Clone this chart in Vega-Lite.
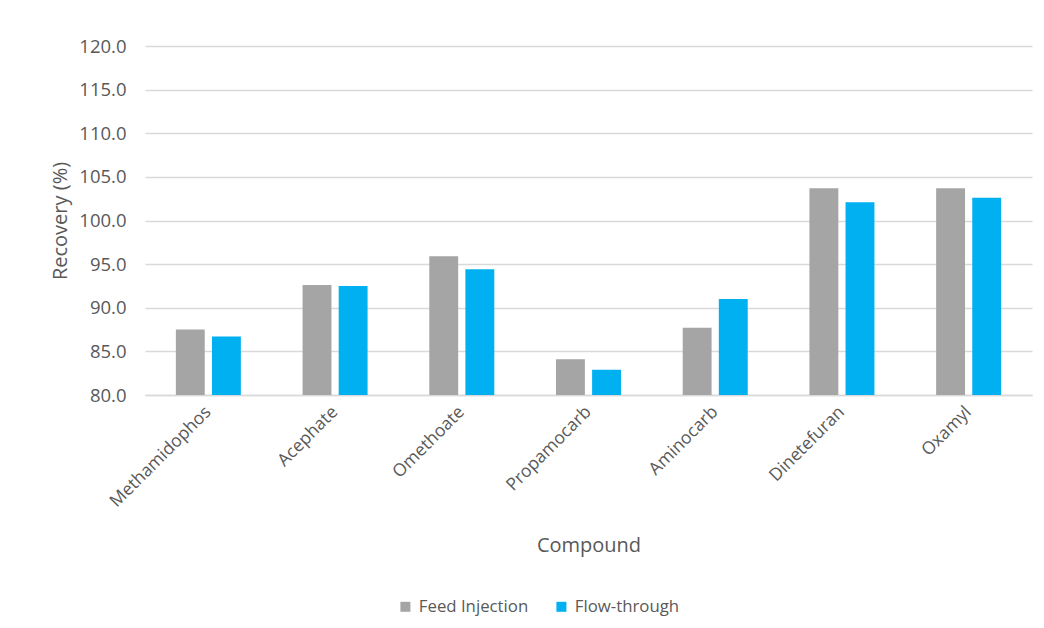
{
  "$schema": "https://vega.github.io/schema/vega-lite/v6.json",
  "width": 887,
  "height": 349,
  "autosize": {"type": "none"},
  "padding": {"left": 145, "top": 46, "right": 12, "bottom": 233},
  "background": "white",
  "data": {
    "values": [
      {"Compound": "Methamidophos", "Method": "Feed Injection", "Recovery": 87.5},
      {"Compound": "Methamidophos", "Method": "Flow-through", "Recovery": 86.7},
      {"Compound": "Acephate", "Method": "Feed Injection", "Recovery": 92.6},
      {"Compound": "Acephate", "Method": "Flow-through", "Recovery": 92.5},
      {"Compound": "Omethoate", "Method": "Feed Injection", "Recovery": 95.9},
      {"Compound": "Omethoate", "Method": "Flow-through", "Recovery": 94.4},
      {"Compound": "Propamocarb", "Method": "Feed Injection", "Recovery": 84.1},
      {"Compound": "Propamocarb", "Method": "Flow-through", "Recovery": 82.9},
      {"Compound": "Aminocarb", "Method": "Feed Injection", "Recovery": 87.7},
      {"Compound": "Aminocarb", "Method": "Flow-through", "Recovery": 91.0},
      {"Compound": "Dinetefuran", "Method": "Feed Injection", "Recovery": 103.7},
      {"Compound": "Dinetefuran", "Method": "Flow-through", "Recovery": 102.1},
      {"Compound": "Oxamyl", "Method": "Feed Injection", "Recovery": 103.7},
      {"Compound": "Oxamyl", "Method": "Flow-through", "Recovery": 102.6}
    ]
  },
  "mark": {"type": "bar", "clip": true},
  "encoding": {
    "x": {
      "field": "Compound",
      "type": "nominal",
      "sort": null,
      "scale": {"paddingInner": 0.487, "paddingOuter": 0.2435},
      "axis": {
        "title": "Compound",
        "labelAngle": -45,
        "labelAlign": "right",
        "labelBaseline": "middle",
        "labelPadding": 14,
        "labelFontSize": 17.5,
        "ticks": false,
        "domainColor": "#D9D9D9",
        "domainWidth": 1.5,
        "titlePadding": 25
      }
    },
    "xOffset": {
      "field": "Method",
      "type": "nominal",
      "scale": {"paddingInner": 0.2, "paddingOuter": 0}
    },
    "y": {
      "field": "Recovery",
      "type": "quantitative",
      "scale": {"domain": [80, 120], "zero": false, "nice": false},
      "axis": {
        "title": "Recovery (%)",
        "format": ".1f",
        "values": [80, 85, 90, 95, 100, 105, 110, 115, 120],
        "domain": false,
        "ticks": false,
        "labelPadding": 19,
        "labelFontSize": 18.5,
        "titlePadding": 8,
        "gridColor": "#D9D9D9",
        "gridWidth": 1.5
      }
    },
    "color": {
      "field": "Method",
      "type": "nominal",
      "scale": {"domain": ["Feed Injection", "Flow-through"], "range": ["#A5A5A5", "#00B0F0"]},
      "legend": {
        "title": null,
        "orient": "none",
        "direction": "horizontal",
        "legendX": 252,
        "legendY": 552,
        "symbolType": "square",
        "symbolSize": 100,
        "symbolStrokeWidth": 0,
        "columnPadding": 24,
        "labelOffset": 5
      }
    }
  },
  "config": {
    "font": "Open Sans",
    "view": {"stroke": null},
    "axis": {
      "labelFont": "Open Sans",
      "titleFont": "Open Sans",
      "titleFontSize": 20,
      "labelColor": "#595959",
      "titleColor": "#595959",
      "titleFontWeight": "normal"
    },
    "legend": {
      "labelFont": "Open Sans",
      "labelFontSize": 16.8,
      "labelColor": "#595959"
    }
  }
}
